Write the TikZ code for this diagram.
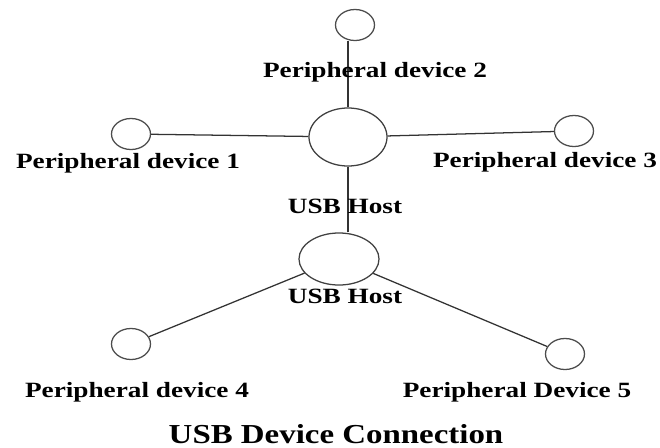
\documentclass[tikz,border=0pt]{standalone}
\usepackage{fontspec}
\setmainfont{Liberation Serif}
\newfontfamily\labelfont[FakeStretch=1.25]{Liberation Serif}
\newfontfamily\titlefont[FakeStretch=1.2]{Liberation Serif}
\usepackage{tikz}
\usetikzlibrary{shapes.geometric,positioning,calc}

\begin{document}
\begin{tikzpicture}[
    x=0.025cm, y=-0.025cm,
    device/.style={ellipse, draw=black!70, line width=0.9pt, inner sep=0pt, minimum width=0.975cm, minimum height=0.775cm},
    hub/.style={ellipse, draw=black!75, line width=0.9pt, inner sep=0pt},
    devlabel/.style={anchor=base, inner sep=0pt, font=\labelfont\bfseries\fontsize{15.5}{18}\selectfont},
    title/.style={anchor=base, inner sep=0pt, font=\titlefont\bfseries\fontsize{19.5}{23}\selectfont},
    link/.style={draw=black!80, line width=0.9pt}
]
    \useasboundingbox (0,0) rectangle (660,448);

    % Hosts
    \node[hub, minimum width=1.95cm, minimum height=1.45cm] (host1) at (348,137) {};
    \node[hub, minimum width=2.0cm, minimum height=1.3cm] (host2) at (339,259) {};

    % Peripheral devices
    \node[device] (pd1) at (131,134) {};
    \node[device] (pd2) at (355,25) {};
    \node[device] (pd3) at (574,131) {};
    \node[device] (pd4) at (131,344) {};
    \node[device] (pd5) at (565,354) {};

    % Connections
    \draw[link] (host1.north) -- (host1.north |- pd2.south);
    \draw[link] (pd1) -- (host1);
    \draw[link] (host1) -- (pd3);
    \draw[link] (host1.south) -- (host1.south |- host2.north);
    \draw[link] (pd4) -- (host2);
    \draw[link] (host2) -- (pd5);

    % Labels
    \node[devlabel] (pd1-label) at (128,168) {Peripheral device 1};
    \node[devlabel] (pd2-label) at (375,77) {Peripheral device 2};
    \node[devlabel] (pd3-label) at (545,167) {Peripheral device 3};
    \node[devlabel] (pd4-label) at (137,397) {Peripheral device 4};
    \node[devlabel] (pd5-label) at (517,397) {Peripheral Device 5};
    \node[devlabel] (host1-label) at (345,213) {USB Host};
    \node[devlabel] (host2-label) at (345,303) {USB Host};

    \node[title] (caption) at (336,443) {USB Device Connection};
\end{tikzpicture}
\end{document}
